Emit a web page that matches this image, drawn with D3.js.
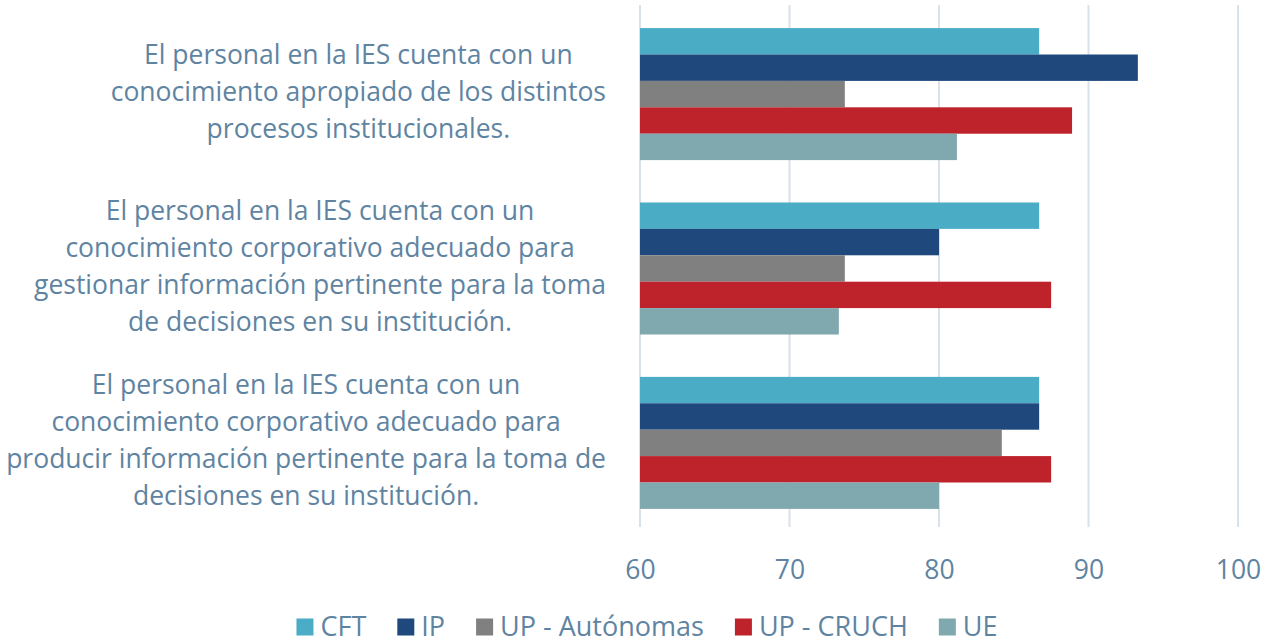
<!DOCTYPE html>
<html><head><meta charset="utf-8">
<script src="https://cdn.jsdelivr.net/npm/d3@7"></script>
<style>body{margin:0;background:#fff}svg{display:block}</style>
</head><body>
<svg id="c" width="1273" height="640"></svg>
<script>
const categories = [
  "El personal en la IES cuenta con un|conocimiento apropiado de los distintos|procesos institucionales.",
  "El personal en la IES cuenta con un|conocimiento corporativo adecuado para|gestionar información pertinente para la toma|de decisiones en su institución.",
  "El personal en la IES cuenta con un|conocimiento corporativo adecuado para|producir información pertinente para la toma de|decisiones en su institución."
];
const seriesNames = ["CFT", "IP", "UP - Autónomas", "UP - CRUCH", "UE"];
const CFT = [86.7, 86.7, 86.7];
const IP = [93.3, 80.0, 86.7];
const UPAutonomas = [73.7, 73.7, 84.2];
const UPCRUCH = [88.9, 87.5, 87.5];
const UE = [81.2, 73.3, 80.0];
const tickValues = [60, 70, 80, 90, 100];
const colors = ["#4BACC6", "#1F497D", "#808080", "#BE222B", "#7FA9AE"];

const seriesValues = [CFT, IP, UPAutonomas, UPCRUCH, UE];
const textColor = "#5F84A2";
const font = "'Open Sans', 'Noto Sans', sans-serif";
const fsLabel = 26.5;
const fsTick = 26.5;
const fsLegend = 27;

const svg = d3.select("#c");
const x = d3.scaleLinear().domain([60, 100]).range([640, 1238]);
const y0 = d3.scaleBand().domain(d3.range(categories.length)).range([7, 530]).paddingInner(0.243).paddingOuter(0.121);
const y1 = d3.scaleBand().domain(d3.range(seriesNames.length)).range([0, y0.bandwidth()]);

// gridlines
svg.append("g").selectAll("line").data(tickValues).join("line")
  .attr("x1", d => x(d)).attr("x2", d => x(d))
  .attr("y1", 5).attr("y2", 527)
  .attr("stroke", "#D9E1EA").attr("stroke-width", 2);

// bars
const groups = svg.append("g").selectAll("g").data(categories).join("g")
  .attr("transform", (d, i) => `translate(0,${y0(i)})`);
groups.selectAll("rect").data((d, i) => seriesValues.map((s, j) => ({ j, v: s[i] }))).join("rect")
  .attr("x", x(60)).attr("y", d => y1(d.j))
  .attr("width", d => x(d.v) - x(60)).attr("height", y1.bandwidth())
  .attr("fill", d => colors[d.j]);

// x axis tick labels
const xAxis = d3.axisBottom(x).tickValues(tickValues).tickSize(0).tickPadding(0);
const ax = svg.append("g").attr("transform", "translate(0,560)").call(xAxis);
ax.select(".domain").remove();
ax.selectAll("text").attr("font-family", font).attr("font-size", fsTick + "px").attr("fill", textColor).attr("dy", "0.71em");

// category labels
const lineH = 37;
const rightEdge = 606;
categories.forEach((c, i) => {
  const lines = c.split("|");
  const g = svg.append("g");
  const texts = g.selectAll("text").data(lines).join("text")
    .attr("font-family", font).attr("font-size", fsLabel + "px").attr("fill", textColor)
    .attr("text-anchor", "middle").text(d => d);
  let maxW = 0;
  texts.each(function () { maxW = Math.max(maxW, this.getComputedTextLength()); });
  const cx = Math.max(rightEdge - maxW / 2, maxW / 2 + 2);
  const cy = y0(i) + y0.bandwidth() / 2 - 2.5;
  texts.attr("x", cx).attr("y", (d, k) => cy + (k - (lines.length - 1) / 2) * lineH).attr("dy", "0.35em");
});

// legend
const legend = svg.append("g");
const items = legend.selectAll("g").data(seriesNames).join("g");
items.append("rect").attr("width", 17).attr("height", 17).attr("y", -8.5).attr("fill", (d, i) => colors[i]);
items.append("text").attr("x", 24).attr("dy", "0.33em").attr("font-family", font).attr("font-size", fsLegend + "px").attr("fill", textColor).text(d => d);
let pos = 0; const offs = [];
items.each(function () { offs.push(pos); pos += 24 + this.querySelector("text").getComputedTextLength() + 31; });
const total = pos - 31;
const startX = 647 - total / 2;
items.attr("transform", (d, i) => `translate(${startX + offs[i]},627)`);
</script>
</body></html>
